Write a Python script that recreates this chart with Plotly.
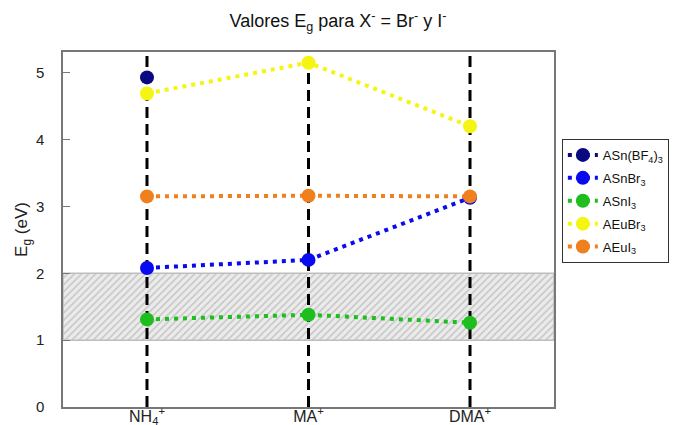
import plotly.graph_objects as go

# Cations (x categories) and band-gap values in eV
cations = ["NH<sub>4</sub><sup>+</sup>", "MA<sup>+</sup>", "DMA<sup>+</sup>"]
positions = [0, 1, 2]

sn_bf4 = [4.93, None, None]
sn_br3 = [2.08, 2.20, 3.13]
sn_i3 = [1.31, 1.38, 1.26]
eu_br3 = [4.69, 5.15, 4.20]
eu_i3 = [3.15, 3.16, 3.15]

series = [
    ("ASn(BF<sub>4</sub>)<sub>3</sub>", sn_bf4, "#0a0a80"),
    ("ASnBr<sub>3</sub>", sn_br3, "#0a0af0"),
    ("ASnI<sub>3</sub>", sn_i3, "#1ebe1e"),
    ("AEuBr<sub>3</sub>", eu_br3, "#f5f514"),
    ("AEuI<sub>3</sub>", eu_i3, "#f0801e"),
]

# Optimal band-gap window
band_low, band_high = 1.0, 2.0
x_lo, x_hi = -0.52, 2.52
y_lo, y_hi = 0, 5.31

fig = go.Figure()

# Hatched band
fig.add_trace(go.Scatter(
    x=[x_lo, x_hi, x_hi, x_lo, x_lo],
    y=[band_low, band_low, band_high, band_high, band_low],
    mode="lines", fill="toself",
    fillcolor="#e8e8e8",
    fillpattern=dict(shape="/", bgcolor="#ebebeb", fgcolor="#a0a0a0", size=5, solidity=0.3),
    line=dict(color="#bdbdbd", width=1.5),
    showlegend=False, hoverinfo="skip",
))

# Vertical dashed guides at each cation
for p in positions:
    fig.add_trace(go.Scatter(
        x=[p, p], y=[y_lo, y_hi], mode="lines",
        line=dict(color="black", width=3, dash="11px,6px"),
        showlegend=False, hoverinfo="skip",
    ))

for name, vals, color in series:
    fig.add_trace(go.Scatter(
        x=positions, y=vals, name=name, mode="lines+markers",
        legendgroup=name,
        line=dict(color=color, width=4, dash="4px,5px"),
        marker=dict(color=color, size=14),
        connectgaps=False,
    ))

fig.update_layout(
    width=676, height=425,
    margin=dict(l=63, r=122, t=52, b=18, autoexpand=False),
    paper_bgcolor="white", plot_bgcolor="white",
    font=dict(family="Arial, Liberation Sans, sans-serif", size=14, color="#222"),
    title=dict(
        text="Valores E<sub>g</sub> para X<sup>-</sup> = Br<sup>-</sup> y I<sup>-</sup>",
        x=0.5, xref="container", xanchor="center", y=0.965, yref="container",
        font=dict(size=18, color="#111"), automargin=False,
    ),
    showlegend=True,
    legend=dict(
        x=1.016, xanchor="left", y=0.755, yanchor="top",
        bordercolor="#333", borderwidth=1, bgcolor="white",
        font=dict(size=13, color="#111"),
        tracegroupgap=3,
    ),
)

fig.update_xaxes(
    range=[x_lo, x_hi], tickvals=positions, ticktext=cations,
    showgrid=False, zeroline=False, automargin=False,
    showline=True, linecolor="#777", linewidth=1.5, mirror=True,
    ticks="", ticklabelstandoff=-6, tickfont=dict(size=16, color="#222"),
)
fig.update_yaxes(
    range=[y_lo, y_hi], tickvals=[0, 1, 2, 3, 4, 5],
    showgrid=False, zeroline=False, automargin=False,
    showline=True, linecolor="#777", linewidth=1.5, mirror=True,
    ticks="inside", ticklen=7, tickcolor="#777", tickwidth=1,
    ticklabelstandoff=14,
    tickfont=dict(size=15, color="#222"),
    title=dict(text="E<sub>g</sub> (eV)", font=dict(size=17, color="#222"), standoff=4),
)

fig.write_html("out.html")
